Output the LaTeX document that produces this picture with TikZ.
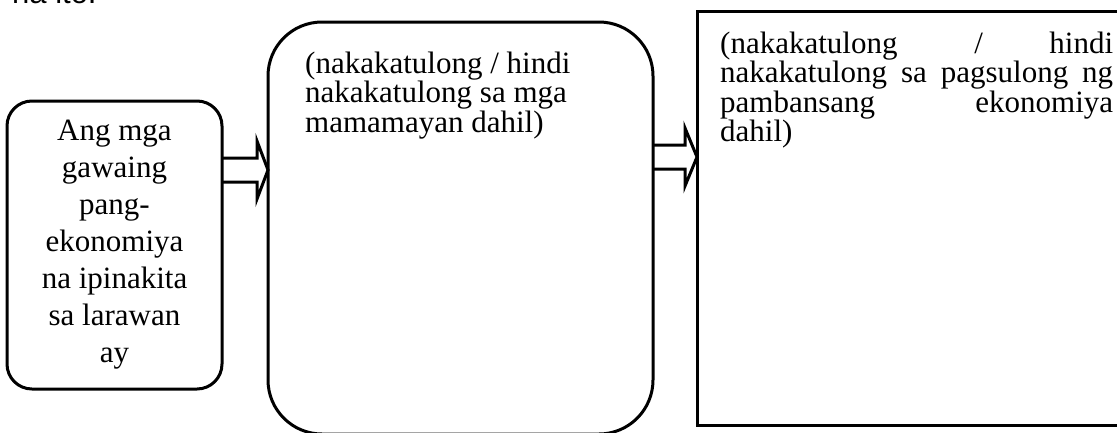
\documentclass[tikz,border=0pt]{standalone}
\usepackage{fontspec}
\setmainfont{Liberation Serif}
\newfontfamily\arialfont{Liberation Sans}
\usetikzlibrary{calc}

\tikzset{
    box/.style={draw, line width=3pt, outer sep=0pt, inner sep=0pt},
    blockarrow/.style={line width=3pt, line join=miter},
    bigtext/.style={inner sep=0pt, align=left, anchor=north west}
}

\begin{document}
\begin{tikzpicture}[x=1pt, y=-1pt]

    % Page frame
    \useasboundingbox (0,0) rectangle (1117,432);

    % Cut off line of the question above
    \node[font=\arialfont\fontsize{31pt}{37pt}\selectfont, anchor=base west, inner sep=0pt] (qline) at (12,3) {na ito.};

    % The three boxes
    \node[box, rounded corners=25pt, minimum width=215pt, minimum height=288pt, align=center,
          font=\fontsize{31pt}{37pt}\selectfont] (ang) at (114.5,245)
          {Ang mga\\ gawaing\\ pang-\\ ekonomiya\\ na ipinakita\\ sa larawan\\ ay};
    \node[box, rounded corners=54pt, minimum width=385pt, minimum height=412pt] (mid) at (460.5,228) {};
    \node[box, minimum width=428pt, minimum height=414pt] (dahil) at (911,218) {};

    % Texts of the two answer boxes
    \node[bigtext, font=\fontsize{31pt}{27.5pt}\selectfont] (midtext) at (305,52)
          {(nakakatulong / hindi\\ nakakatulong sa mga\\ mamamayan dahil)};
    \node[bigtext, font=\fontsize{31pt}{27pt}\selectfont, text width=393pt] (dahiltext) at (720,32)
          {(nakakatulong \hfill/\hfill hindi\\ nakakatulong\hfill sa\hfill pagsulong\hfill ng\\ pambansang\hfill ekonomiya\\ dahil)};

    % Arrows between the boxes
    \coordinate (a1) at (0,170);
    \coordinate (a2) at (0,157);
    \draw[blockarrow] ($(ang.east |- a1)+(0,-12)$) -- ($(mid.west |- a1)+(-11,-12)$) -- ++(0,-17)
          -- (mid.west |- a1) -- ($(mid.west |- a1)+(-11,29)$) -- ++(0,-17) -- ($(ang.east |- a1)+(0,12)$);
    \draw[blockarrow] ($(mid.east |- a2)+(0,-12)$) -- ($(dahil.west |- a2)+(-12,-12)$) -- ++(0,-17)
          -- (dahil.west |- a2) -- ($(dahil.west |- a2)+(-12,29)$) -- ++(0,-17) -- ($(mid.east |- a2)+(0,12)$);

\end{tikzpicture}
\end{document}
